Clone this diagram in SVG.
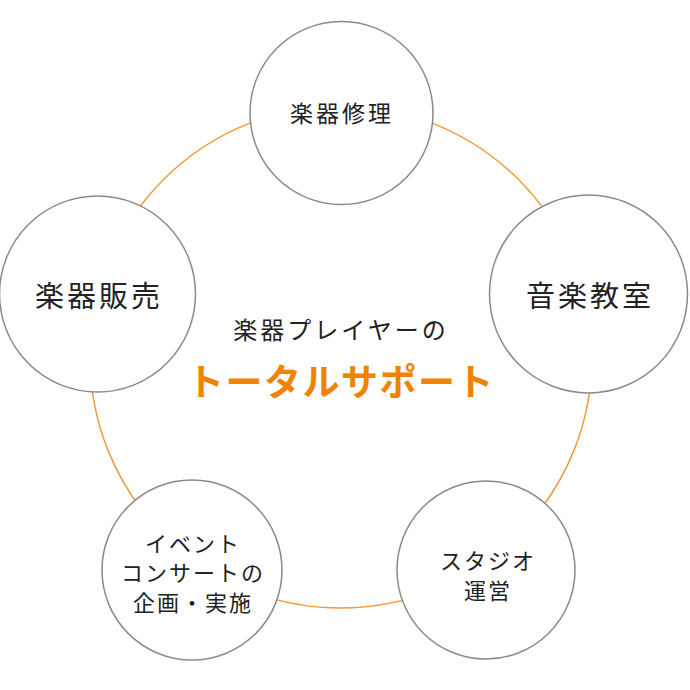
<svg xmlns="http://www.w3.org/2000/svg" width="690" height="690" viewBox="0 0 690 690">
<style>
.node circle{fill:#fff;stroke:#8a8a8a;stroke-width:1.5}
.t{font-family:"Noto Sans CJK JP","Noto Sans",sans-serif;fill:#222;text-anchor:middle}
.s{font-size:22px;letter-spacing:2px}
.l{font-size:29px;letter-spacing:3px}
.ring{fill:none;stroke:#f39a3a;stroke-width:1.5}
</style>
<rect width="690" height="690" fill="#fff"/>
<g id="connectors">
<circle class="ring" cx="341" cy="357" r="251"/>
</g>
<g id="center-text">
<text class="t" x="341" y="339" style="font-size:24px;letter-spacing:3px">楽器プレイヤーの</text>
<text x="341" y="396" style="font-family:'Noto Sans CJK JP','Noto Sans',sans-serif;font-size:37px;font-weight:bold;fill:#f08300;text-anchor:middle;letter-spacing:1.5px">トータルサポート</text>
</g>
<g id="node-repair" class="node">
<circle cx="341.5" cy="113" r="91.5"/>
<text class="t" x="342" y="122" style="font-size:23px;letter-spacing:3px">楽器修理</text>
</g>
<g id="node-sales" class="node">
<circle cx="97.5" cy="294" r="98"/>
<text class="t l" x="99" y="307">楽器販売</text>
</g>
<g id="node-school" class="node">
<circle cx="588.5" cy="294" r="99"/>
<text class="t l" x="590" y="307">音楽教室</text>
</g>
<g id="node-event" class="node">
<circle cx="192" cy="570" r="90"/>
<text class="t s" x="193" y="552">イベント</text>
<text class="t s" x="193" y="581">コンサートの</text>
<text class="t s" x="193" y="611">企画・実施</text>
</g>
<g id="node-studio" class="node">
<circle cx="486" cy="570" r="89"/>
<text class="t s" x="488" y="569">スタジオ</text>
<text class="t s" x="488" y="599">運営</text>
</g>
</svg>
